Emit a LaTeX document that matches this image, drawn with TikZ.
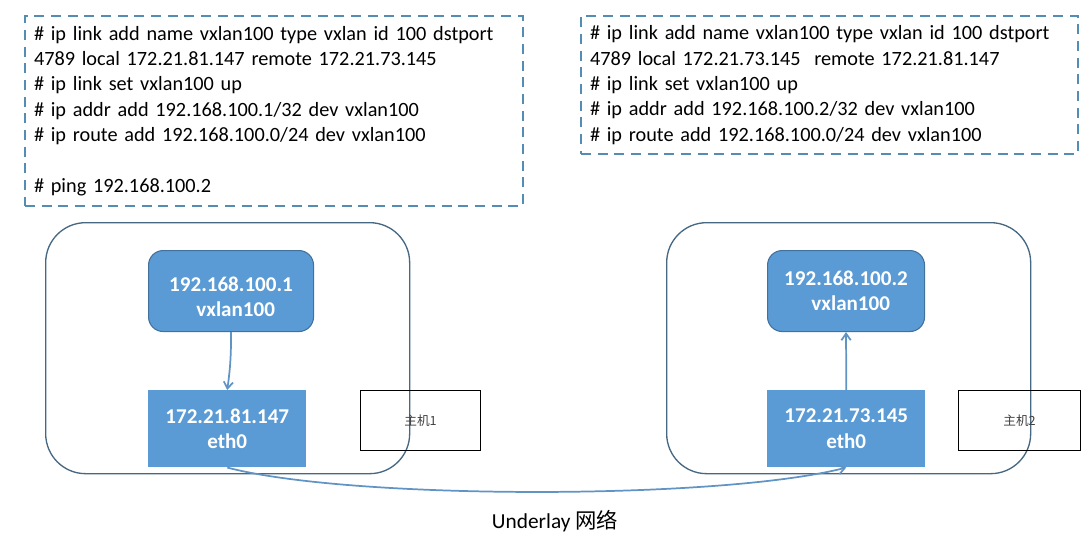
\documentclass[tikz,border=0pt]{standalone}
\usepackage{fontspec}
\setmainfont{Carlito}
\newfontfamily\cjk{Noto Sans CJK SC}
\usetikzlibrary{arrows.meta,positioning}
\definecolor{dashblue}{RGB}{84,141,180}
\definecolor{hostline}{RGB}{70,104,130}
\definecolor{nicfill}{RGB}{91,155,213}
\definecolor{nicline}{RGB}{65,113,156}
\definecolor{linkblue}{RGB}{96,148,196}
\tikzset{
  cmdbox/.style  = {draw=dashblue, line width=1.5pt, dash pattern=on 7.5pt off 5pt,
                    anchor=north west, align=left, inner xsep=6.75pt,
                    font=\fontsize{15.2}{19}\selectfont},
  host/.style    = {draw=hostline, line width=1pt, rounded corners=30pt,
                    anchor=north west, minimum width=273pt, minimum height=188.25pt},
  vxbox/.style   = {draw=nicline, fill=nicfill, line width=0.8pt, rounded corners=11pt,
                    anchor=north west, minimum height=60.75pt, align=center,
                    text=white, font=\bfseries\fontsize{15.8}{19}\selectfont},
  ethbox/.style  = {fill=nicfill, anchor=north west, minimum width=118.5pt,
                    minimum height=57.75pt, align=center,
                    text=white, font=\bfseries\fontsize{15.8}{19}\selectfont},
  tag/.style     = {draw, line width=0.8pt, anchor=north west, minimum height=45pt,
                    text=black!75, font=\cjk\fontsize{9.5}{11}\selectfont},
  link/.style    = {draw=linkblue, line width=1.3pt, -{Straight Barb[length=5pt,width=7pt]}},
}
\begin{document}
\begin{tikzpicture}[x=0.75pt,y=-0.75pt]
\useasboundingbox (0,0) rectangle (1091,542);
% command boxes
\node[cmdbox, text width=360pt, minimum height=142.5pt] (cmdA) at (24,15)
  {\# ip link add name vxlan100 type vxlan id 100 dstport\\
   4789 local 172.21.81.147 remote 172.21.73.145\\
   \# ip link set vxlan100 up\\
   \# ip addr add 192.168.100.1/32 dev vxlan100\\
   \# ip route add 192.168.100.0/24 dev vxlan100\\[19pt]
   \# ping 192.168.100.2};
\node[cmdbox, text width=359.25pt, minimum height=103.5pt] (cmdB) at (580,15)
  {\# ip link add name vxlan100 type vxlan id 100 dstport\\
   4789 local 172.21.73.145~ remote 172.21.81.147\\
   \# ip link set vxlan100 up\\
   \# ip addr add 192.168.100.2/32 dev vxlan100\\
   \# ip route add 192.168.100.0/24 dev vxlan100};
% hosts
\node[host] (hostA) at (45,222) {};
\node[host] (hostB) at (666,222) {};
\node[vxbox, minimum width=123.75pt] (vxA) at (148,250)
  {\rule{0pt}{20pt}192.168.100.1\\\hspace*{7pt}vxlan100};
\node[ethbox] (ethA) at (148,390) {172.21.81.147\\eth0};
\node[vxbox, minimum width=117.75pt] (vxB) at (767,250)
  {192.168.100.2\\\hspace*{7pt}vxlan100};
\node[ethbox] (ethB) at (767,390) {172.21.73.145\\eth0};
\node[tag, minimum width=90pt] (tagA) at (360,390) {主机1};
\node[tag, minimum width=91.5pt] (tagB) at (958,390) {主机2};
% links
\draw[link] (vxA.south) to[bend left=4] (ethA.north);
\draw[link] (ethB.north) -- (vxB.south);
\draw[link] (ethA.south) .. controls (350,500) and (720,500) .. (ethB.south);
\node[font=\fontsize{16}{19}\selectfont] (underlay) at (555,521) {Underlay {\cjk 网络}};
\end{tikzpicture}
\end{document}
